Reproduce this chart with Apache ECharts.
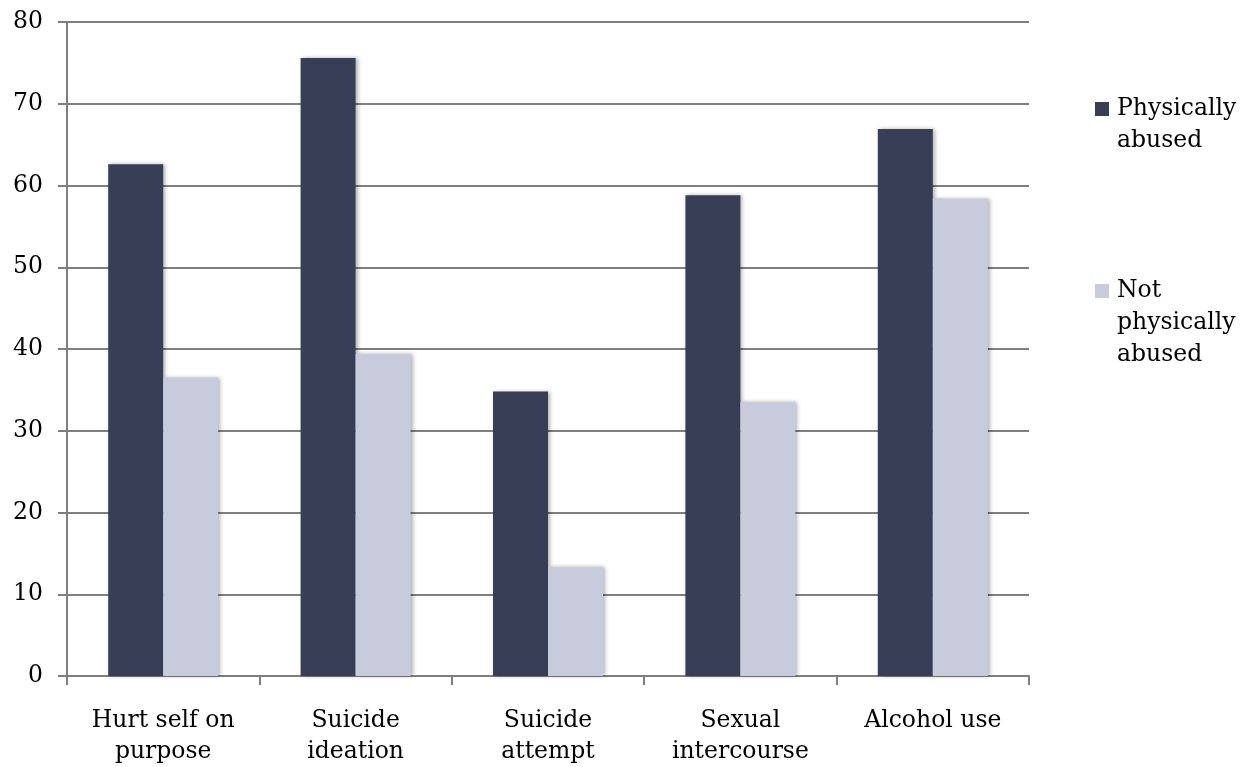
<!DOCTYPE html>
<html><head><meta charset="utf-8">
<script src="https://cdn.jsdelivr.net/npm/echarts@6/dist/echarts.min.js"></script>
<style>html,body{margin:0;padding:0;background:#fff}#c{width:1245px;height:767px}</style>
</head><body><div id="c"></div>
<script>
const categories = ['Hurt self on\npurpose', 'Suicide\nideation', 'Suicide\nattempt', 'Sexual\nintercourse', 'Alcohol use'];
const physicallyAbused = [62.6, 75.6, 34.8, 58.8, 66.9];
const notPhysicallyAbused = [36.5, 39.4, 13.3, 33.5, 58.4];
const seriesNames = ['Physically abused', 'Not physically abused'];
const yTicks = [0, 10, 20, 30, 40, 50, 60, 70, 80];

const FONT = '"DejaVu Serif", serif';
const FS = 23.5;
const DARK = '#393e57', LIGHT = '#c8cbdb';
const LINE = '#7f7f7f';
const chart = echarts.init(document.getElementById('c'));
const shadow = {shadowBlur: 4, shadowOffsetX: 2, shadowOffsetY: 0, shadowColor: 'rgba(0,0,0,0.3)'};
chart.setOption({
  animation: false,
  grid: {left: 67, right: 216, top: 22, bottom: 89, containLabel: false},
  legend: {
    orient: 'vertical', left: 1085, top: 88, itemGap: 118,
    icon: 'none', itemWidth: 0, itemHeight: 0,
    data: seriesNames,
    formatter: function (name) {
      if (name === seriesNames[0]) return '{a|}{t|Physically}\n{u|abused}';
      return '{b|}{t|Not}\n{u|physically}\n{u|abused}';
    },
    textStyle: {
      fontFamily: FONT, fontSize: FS, color: '#000', lineHeight: 32,
      rich: {
        a: {width: 14, height: 14, backgroundColor: DARK},
        b: {width: 14, height: 14, backgroundColor: LIGHT},
        t: {fontFamily: FONT, fontSize: FS, color: '#000', lineHeight: 32, padding: [0, 0, 0, 8]},
        u: {fontFamily: FONT, fontSize: FS, color: '#000', lineHeight: 32, padding: [0, 0, 0, 22]}
      }
    }
  },
  xAxis: {
    type: 'category', data: categories,
    axisLine: {lineStyle: {color: LINE, width: 2}},
    axisTick: {show: true, length: 9, alignWithLabel: false, lineStyle: {color: LINE, width: 2}},
    axisLabel: {fontFamily: FONT, fontSize: FS, color: '#000', lineHeight: 31, margin: 29, interval: 0}
  },
  yAxis: {
    type: 'value', min: 0, max: 80, interval: 10,
    axisLine: {show: true, lineStyle: {color: LINE, width: 2}},
    axisTick: {show: true, length: 9, lineStyle: {color: LINE, width: 2}},
    splitLine: {show: true, lineStyle: {color: LINE, width: 2}},
    axisLabel: {fontFamily: FONT, fontSize: FS, color: '#000', margin: 24,
      formatter: v => yTicks.includes(v) ? String(v) : ''}
  },
  series: [
    {name: seriesNames[0], type: 'bar', data: physicallyAbused, barWidth: 55, barGap: '0%',
     itemStyle: Object.assign({color: DARK}, shadow)},
    {name: seriesNames[1], type: 'bar', data: notPhysicallyAbused, barWidth: 55, barGap: '0%',
     itemStyle: Object.assign({color: LIGHT}, shadow)}
  ]
});
</script></body></html>
